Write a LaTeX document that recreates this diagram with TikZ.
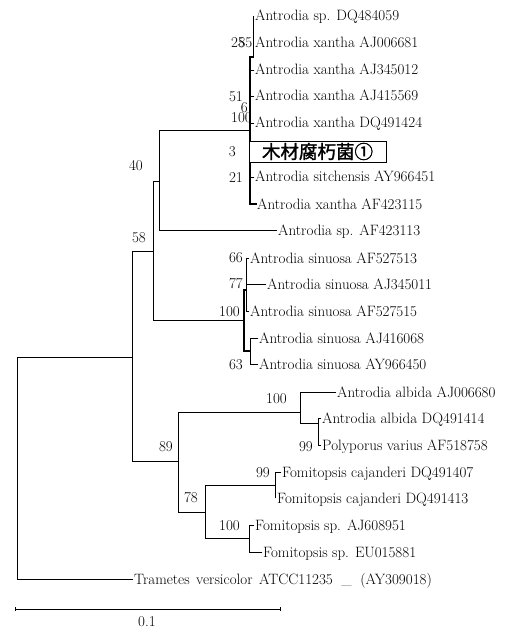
\documentclass[tikz,border=0pt]{standalone}
\usepackage{fontspec}
\newfontfamily\cjk{Noto Sans CJK JP}[FakeBold=1.5]
\begin{document}
\begin{tikzpicture}[x=1pt,y=-1pt,
  br/.style={line width=0.9pt, line cap=rect},
  thick br/.style={line width=1.6pt, line cap=rect},
  leaf/.style={anchor=base west, inner sep=0pt, font=\fontsize{15}{15}\selectfont},
  bs/.style={anchor=base east, inner sep=0pt, font=\fontsize{15}{15}\selectfont},
  tagbox/.style={draw, line width=0.8pt, fill=white, inner sep=0pt, minimum width=137pt, minimum height=21pt, font=\cjk\fontsize{18.5}{19}\selectfont}]
\useasboundingbox (0,0) rectangle (513,628);
% internal nodes
\coordinate (R) at (17,357);
\coordinate (C) at (132,357);
\coordinate (A) at (153,251);
\coordinate (B) at (159,181);
\coordinate (X) at (250,130);
\coordinate (Xt) at (253,57);
\coordinate (S) at (244,320);
\coordinate (S1) at (246,290);
\coordinate (S2) at (250,351);
\coordinate (N89) at (178,461);
\coordinate (D) at (300,412);
\coordinate (E) at (318,423);
\coordinate (N78) at (205,512);
\coordinate (F) at (275,485);
\coordinate (G) at (249,538);
% leaf tips
\coordinate (t0) at (254,16);
\coordinate (t1) at (254,43);
\coordinate (t2) at (254,70);
\coordinate (t3) at (254,96);
\coordinate (t4) at (254,123);
\coordinate (t6) at (254,177);
\coordinate (t7) at (256,204);
\coordinate (t8) at (277,230);
\coordinate (t9) at (249,258);
\coordinate (t10) at (266,284);
\coordinate (t11) at (249,311);
\coordinate (t12) at (258,338);
\coordinate (t13) at (258,364);
\coordinate (t14) at (336,392);
\coordinate (t15) at (321,418);
\coordinate (t16) at (321,445);
\coordinate (t17) at (281,472);
\coordinate (t18) at (275,498);
\coordinate (t19) at (254,525);
\coordinate (t20) at (262,552);
\coordinate (t21) at (133,579);
% branches
\draw[br] (R) |- (C) (R) |- (t21);
\draw[br] (C) |- (A) (C) |- (N89);
\draw[br] (A) |- (B) (A) |- (S);
\draw[br] (B) |- (X) (B) |- (t8);
\draw[thick br] (X) |- (Xt) (X) |- (t7);
\draw[br] (X) |- (t2) (X) |- (t3) (X) |- (t4) (X) |- (t6);
\draw[br] (Xt) |- (t0) (Xt) |- (t1);
\draw[thick br] (S) |- (S1) (S) |- (S2);
\draw[br] (S1) |- (t9) (S1) |- (t10) (S1) |- (t11);
\draw[br] (S2) |- (t12) (S2) |- (t13);
\draw[br] (N89) |- (D) (N89) |- (N78);
\draw[br] (D) |- (t14) (D) |- (E);
\draw[br] (E) |- (t15) (E) |- (t16);
\draw[br] (N78) |- (F) (N78) |- (G);
\draw[br] (F) |- (t17) (F) |- (t18);
\draw[br] (G) |- (t19) (G) |- (t20);
% leaf labels
\node[leaf] (l0) at ([xshift=1pt,yshift=-5pt]t0) {Antrodia sp. DQ484059};
\node[leaf] (l1) at ([xshift=1pt,yshift=-5pt]t1) {Antrodia xantha AJ006681};
\node[leaf] (l2) at ([xshift=1pt,yshift=-5pt]t2) {Antrodia xantha AJ345012};
\node[leaf] (l3) at ([xshift=1pt,yshift=-5pt]t3) {Antrodia xantha AJ415569};
\node[leaf] (l4) at ([xshift=1pt,yshift=-5pt]t4) {Antrodia xantha DQ491424};
\node[tagbox] (l5) at (317.5,151.5) {木材腐朽菌①};
\node[leaf] (l6) at ([xshift=1pt,yshift=-5pt]t6) {Antrodia sitchensis AY966451};
\node[leaf] (l7) at ([xshift=1pt,yshift=-5pt]t7) {Antrodia xantha AF423115};
\node[leaf] (l8) at ([xshift=1pt,yshift=-5pt]t8) {Antrodia sp. AF423113};
\node[leaf] (l9) at ([xshift=1pt,yshift=-5pt]t9) {Antrodia sinuosa AF527513};
\node[leaf] (l10) at ([xshift=1pt,yshift=-5pt]t10) {Antrodia sinuosa AJ345011};
\node[leaf] (l11) at ([xshift=1pt,yshift=-5pt]t11) {Antrodia sinuosa AF527515};
\node[leaf] (l12) at ([xshift=1pt,yshift=-5pt]t12) {Antrodia sinuosa AJ416068};
\node[leaf] (l13) at ([xshift=1pt,yshift=-5pt]t13) {Antrodia sinuosa AY966450};
\node[leaf] (l14) at ([xshift=1pt,yshift=-5pt]t14) {Antrodia albida AJ006680};
\node[leaf] (l15) at ([xshift=1pt,yshift=-5pt]t15) {Antrodia albida DQ491414};
\node[leaf] (l16) at ([xshift=1pt,yshift=-5pt]t16) {Polyporus varius AF518758};
\node[leaf] (l17) at ([xshift=1pt,yshift=-5pt]t17) {Fomitopsis cajanderi DQ491407};
\node[leaf] (l18) at ([xshift=2pt,yshift=-5pt]t18) {Fomitopsis cajanderi DQ491413};
\node[leaf] (l19) at ([xshift=1pt,yshift=-5pt]t19) {Fomitopsis sp. AJ608951};
\node[leaf] (l20) at ([xshift=1pt,yshift=-5pt]t20) {Fomitopsis sp. EU015881};
\node[leaf] (l21) at ([xshift=1pt,yshift=-5pt]t21) {Trametes\hspace{2pt} versicolor\hspace{2pt} ATCC11235\hspace{4pt} \_\hspace{4pt} (AY309018)};
% bootstrap values
\node[bs] (b1) at (245,48) {25};
\node[bs] (b2) at (252.5,48) {85};
\node[bs] (b3) at (243,102) {51};
\node[bs] (b4) at (248,113) {6};
\node[bs] (b5) at (252,123) {100};
\node[bs] (b6) at (236,157) {3};
\node[bs] (b7) at (243,183) {21};
\node[bs] (b8) at (143,171) {40};
\node[bs] (b9) at (146,242) {58};
\node[bs] (b10) at (243,262) {66};
\node[bs] (b11) at (243,288) {77};
\node[bs] (b12) at (240,316) {100};
\node[bs] (b13) at (243,369) {63};
\node[bs] (b14) at (287,403) {100};
\node[bs] (b15) at (313,451) {99};
\node[bs] (b16) at (173,451) {89};
\node[bs] (b17) at (270,477) {99};
\node[bs] (b18) at (198,502) {78};
\node[bs] (b19) at (240,530) {100};
% scale bar
\coordinate (sb1) at (15,609);
\coordinate (sb2) at (280,609);
\draw[line width=0.8pt] (sb1) -- (sb2);
\draw[line width=0.8pt] ([yshift=2pt]sb1) -- ([yshift=-2pt]sb1);
\draw[line width=0.8pt] ([yshift=2pt]sb2) -- ([yshift=-2pt]sb2);
\node[anchor=base, inner sep=0pt, font=\fontsize{15}{15}\selectfont] (sbl) at (147,626) {0.1};
\end{tikzpicture}
\end{document}
